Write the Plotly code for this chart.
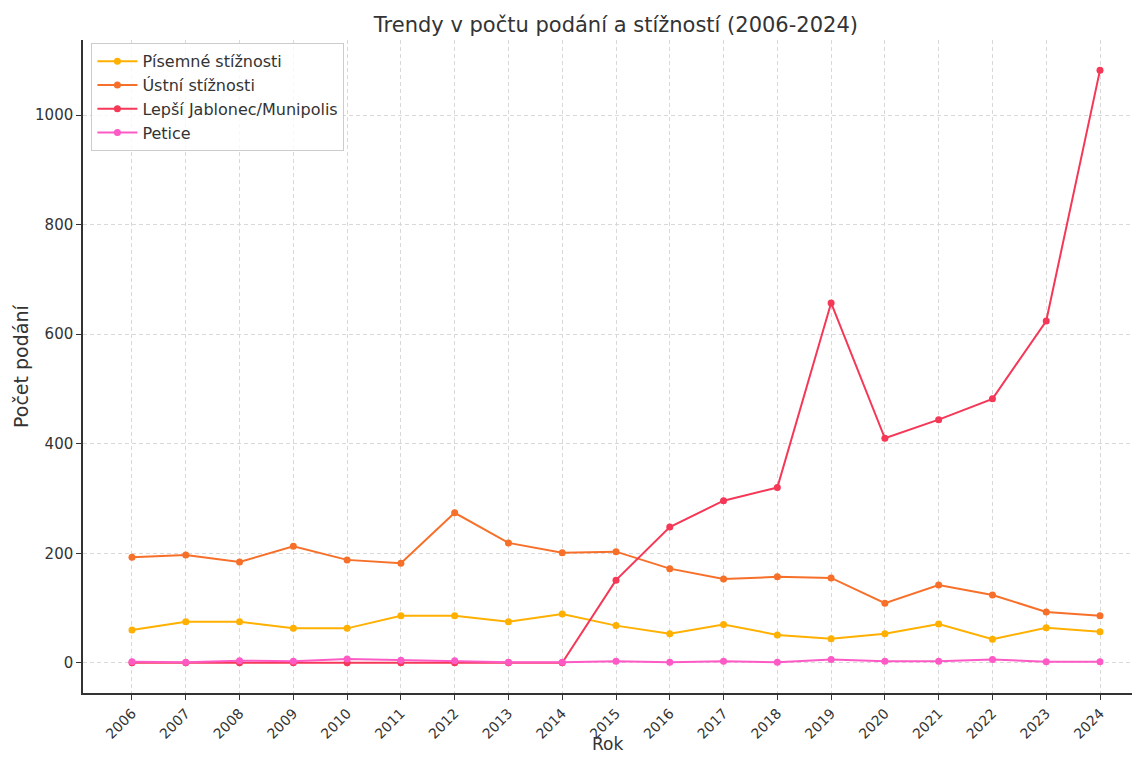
import plotly.graph_objects as go

years = list(range(2006, 2025))
pisemne = [60, 75, 75, 63, 63, 86, 86, 75, 89, 68, 53, 70, 51, 44, 53, 71, 43, 64, 57]
ustni = [193, 197, 184, 213, 188, 182, 274, 219, 201, 203, 172, 153, 157, 155, 109, 142, 124, 93, 86]
lepsi = [0, 0, 0, 0, 0, 0, 0, 0, 0, 151, 248, 296, 320, 657, 410, 444, 482, 624, 1082]
petice = [2, 1, 4, 3, 7, 5, 4, 1, 1, 3, 1, 3, 1, 6, 3, 3, 6, 2, 2]

series = [
    ("Písemné stížnosti", pisemne, "#FFB000"),
    ("Ústní stížnosti", ustni, "#F7702A"),
    ("Lepší Jablonec/Munipolis", lepsi, "#F53857"),
    ("Petice", petice, "#FD5AC6"),
]

fig = go.Figure()
for name, vals, col in series:
    fig.add_trace(go.Scatter(
        x=years, y=vals, name=name, mode="lines+markers",
        line=dict(color=col, width=2), marker=dict(color=col, size=7)))

fig.update_layout(
    width=1125, height=744,
    margin=dict(l=75, r=1, t=32, b=59, autoexpand=False),
    plot_bgcolor="white", paper_bgcolor="white",
    font=dict(family="DejaVu Sans", size=15, color="#333333"),
    title=dict(text="Trendy v počtu podání a stížností (2006-2024)", x=0.508, xanchor="center",
               xref="paper", y=0.977, yanchor="middle", font=dict(size=21, color="#333333")),
    legend=dict(x=0.008, y=0.995, xanchor="left", yanchor="top",
                bgcolor="rgba(255,255,255,0.8)", bordercolor="#cccccc", borderwidth=1,
                font=dict(size=16, color="#333333"), tracegroupgap=0, itemwidth=40),
    showlegend=True,
    annotations=[
        dict(text="Rok", x=0.5, xref="paper", y=-0.078, yref="paper", showarrow=False,
             xanchor="center", yanchor="middle", font=dict(size=17, color="#333333")),
        dict(text="Počet podání", x=-0.0596, xref="paper", y=0.5, yref="paper", showarrow=False,
             xanchor="center", yanchor="middle", textangle=-90, font=dict(size=19, color="#333333")),
    ],
)
fig.update_xaxes(
    range=[2005.089, 2024.595], tickmode="array", tickvals=years, ticktext=[str(y) for y in years],
    tickangle=-45, showgrid=True, gridcolor="#d9d9d9", griddash="4px,3px", gridwidth=1,
    showline=True, linecolor="#333333", linewidth=1.5, ticks="outside", ticklen=5,
    tickcolor="#333333", zeroline=False, tickfont=dict(size=14), automargin=False)
fig.update_yaxes(
    range=[-55, 1137], tickvals=[0, 200, 400, 600, 800, 1000],
    showgrid=True, gridcolor="#d9d9d9", griddash="4px,3px", gridwidth=1,
    showline=True, linecolor="#333333", linewidth=1.5, ticks="outside", ticklen=5,
    tickcolor="#333333", zeroline=False, tickfont=dict(size=15), automargin=False)

fig.write_html("out.html")
